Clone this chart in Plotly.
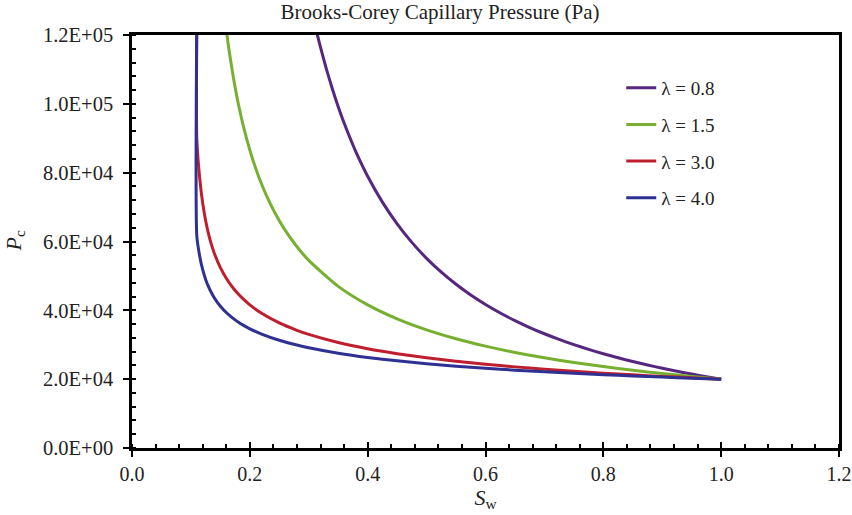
import plotly.graph_objects as go

# ---- data (Sw vs Pc, Pa) ----
sw_l08 = [0.31, 0.32, 0.33, 0.34, 0.35, 0.36, 0.375, 0.38, 0.40, 0.425, 0.45, 0.475, 0.50, 0.525, 0.55, 0.575, 0.60,
          0.625, 0.65, 0.675, 0.70, 0.725, 0.75, 0.775, 0.80, 0.825, 0.85, 0.875, 0.90, 0.925, 0.95, 0.975, 1.00]
pc_l08 = [123300, 116400, 110100, 104380, 99170, 94430, 88040, 86070, 78960, 71440, 65130, 59750, 55110, 51090, 47570, 44460, 41700,
          39230, 37020, 35010, 33200, 31550, 30040, 28660, 27380, 26210, 25120, 24110, 23170, 22300, 21480, 20720, 20000]

sw_l15 = [0.15, 0.16, 0.165, 0.17, 0.175, 0.18, 0.19, 0.20, 0.21, 0.22, 0.235, 0.25, 0.265, 0.28, 0.30, 0.35, 0.40, 0.45,
          0.50, 0.55, 0.60, 0.65, 0.70, 0.75, 0.80, 0.85, 0.90, 0.95, 1.00]
pc_l15 = [137400, 121600, 115300, 109800, 104800, 100400, 92840, 86540, 81200, 76630, 70840, 66040, 61970, 58480, 54510, 46970, 41600, 37540,
          34340, 31750, 29600, 27770, 26210, 24840, 23650, 22580, 21630, 20780, 20000]

sw_l30 = [0.11, 0.11, 0.115, 0.12, 0.125, 0.13, 0.135, 0.14, 0.15, 0.16, 0.17, 0.18, 0.19, 0.20, 0.22, 0.25, 0.28, 0.30, 0.35,
          0.40, 0.45, 0.50, 0.55, 0.60, 0.65, 0.70, 0.75, 0.80, 0.85, 0.90, 0.95, 1.00]
pc_l30 = [125000, 89630, 78300, 71140, 66040, 62150, 59030, 56460, 52410, 49320, 46850, 44810, 43090, 41600, 39150, 36340, 34200, 33020, 30650,
          28840, 27400, 26210, 25200, 24330, 23570, 22890, 22290, 21750, 21250, 20800, 20390, 20000]

sw_l40 = [0.11, 0.11, 0.115, 0.12, 0.125, 0.13, 0.135, 0.14, 0.15, 0.16, 0.17, 0.18, 0.19, 0.20, 0.22, 0.25, 0.28, 0.30, 0.35,
          0.40, 0.45, 0.50, 0.55, 0.60, 0.65, 0.70, 0.75, 0.80, 0.85, 0.90, 0.95, 1.00]
pc_l40 = [125000, 61600, 55670, 51800, 48990, 46800, 45040, 43560, 41200, 39360, 37870, 36630, 35570, 34640, 33100, 31300, 29910, 29130, 27550,
          26320, 25330, 24490, 23780, 23170, 22620, 22130, 21700, 21300, 20930, 20600, 20290, 20000]

series_names = ["λ = 0.8", "λ = 1.5", "λ = 3.0", "λ = 4.0"]
series_colors = ["#55277F", "#77B031", "#BE1E2D", "#2E3192"]

y_tickvals = [0, 20000, 40000, 60000, 80000, 100000, 120000]
y_ticktext = ["0.0E+00", "2.0E+04", "4.0E+04", "6.0E+04", "8.0E+04", "1.0E+05", "1.2E+05"]
x_tickvals = [0.0, 0.2, 0.4, 0.6, 0.8, 1.0, 1.2]

FONT = "Liberation Serif, Times New Roman, serif"
TXT = "#222222"

fig = go.Figure()
for sw, pc, name, col in zip([sw_l08, sw_l15, sw_l30, sw_l40],
                             [pc_l08, pc_l15, pc_l30, pc_l40],
                             series_names, series_colors):
    fig.add_trace(go.Scatter(x=sw, y=pc, mode="lines", name=name, legendgroup=name,
                             line=dict(color=col, width=3, shape="spline", smoothing=0.6)))

# overlay axis to give the x major ticks a crossing look
fig.add_trace(go.Scatter(x=[None], y=[None], xaxis="x2", showlegend=False, hoverinfo="skip"))

fig.update_layout(
    width=852, height=515,
    margin=dict(l=132, r=13, t=35, b=67, autoexpand=False),
    paper_bgcolor="white", plot_bgcolor="white",
    font=dict(family=FONT, size=20, color=TXT),
    title=dict(text="Brooks-Corey Capillary Pressure (Pa)", x=440 / 852, xanchor="center",
               y=1 - 12 / 515, yanchor="middle", yref="container", xref="container",
               font=dict(family=FONT, size=21, color=TXT)),
    showlegend=True,
    legend=dict(x=0.692, y=0.918, xanchor="left", yanchor="top",
                bgcolor="rgba(0,0,0,0)", borderwidth=0,
                font=dict(family=FONT, size=19, color=TXT),
                tracegroupgap=9, traceorder="grouped"),
    annotations=[dict(text="<i>P</i><sub>c</sub>", xref="paper", yref="paper",
                      x=(14 - 132) / 707, y=0.5, xanchor="center", yanchor="middle",
                      textangle=-90, showarrow=False, font=dict(family=FONT, size=22, color=TXT))],
    xaxis=dict(range=[0, 1.2], tickvals=x_tickvals, tickformat=".1f", automargin=False,
               showgrid=False, zeroline=False,
               showline=True, linecolor="black", linewidth=2.5, mirror=True,
               ticks="outside", ticklen=6, tickwidth=2, tickcolor="black",
               minor=dict(dtick=0.04, ticks="inside", ticklen=4, tickwidth=1.5, tickcolor="black", showgrid=False),
               title=dict(text="<i>S</i><sub>w</sub>", font=dict(family=FONT, size=22), standoff=4),
               tickfont=dict(family=FONT, size=20)),
    xaxis2=dict(range=[0, 1.2], overlaying="x", anchor="y", side="bottom", automargin=False,
                tickvals=x_tickvals, showticklabels=False, showgrid=False, zeroline=False,
                ticks="inside", ticklen=6, tickwidth=2, tickcolor="black", showline=False),
    yaxis=dict(range=[0, 120000], tickvals=y_tickvals, ticktext=y_ticktext, automargin=False,
               showgrid=False, zeroline=False,
               showline=True, linecolor="black", linewidth=2.5, mirror=True,
               ticks="outside", ticklen=6, tickwidth=2, tickcolor="black", ticklabelstandoff=6,
               minor=dict(dtick=4000, ticks="inside", ticklen=4, tickwidth=1.5, tickcolor="black", showgrid=False),
               tickfont=dict(family=FONT, size=20.5)),
)

fig.write_html("out.html")
